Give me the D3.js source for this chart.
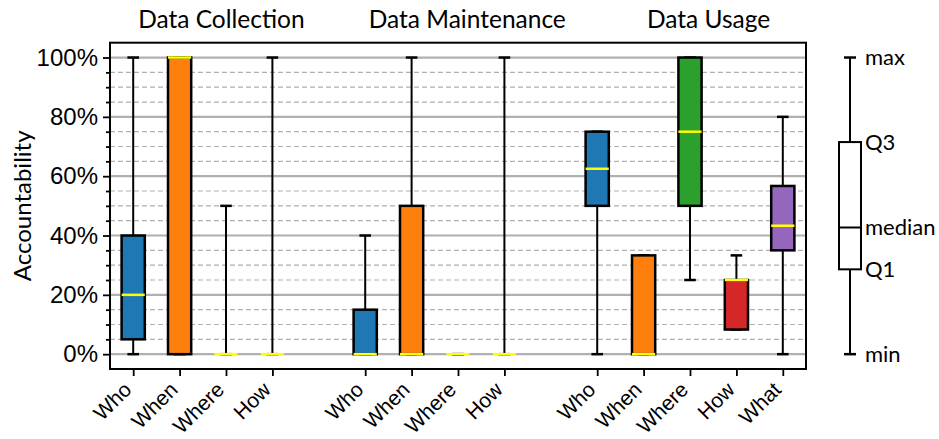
<!DOCTYPE html>
<html>
<head>
<meta charset="utf-8">
<script src="https://cdn.jsdelivr.net/npm/d3@7"></script>
<style>
  body { margin: 0; background: #fff; }
  svg { display: block; font-family: "Lato", "DejaVu Sans", sans-serif; }
</style>
</head>
<body>
<div id="chart"></div>
<script>
// --- Datos ---
const groupTitles = ["Data Collection", "Data Maintenance", "Data Usage"];
const groupTitlePos = [1.9, 7.2, 12.4];
const labels = ["Who", "When", "Where", "How", "Who", "When", "Where", "How", "Who", "When", "Where", "How", "What"];
const positions = [0, 1, 2, 3, 5, 6, 7, 8, 10, 11, 12, 13, 14];
const mins    = [0, 0, 0, 0,   0, 0, 0, 0,    0,    0,    25,  8.3,  0];
const q1s     = [5, 0, 0, 0,   0, 0, 0, 0,    50,   0,    50,  8.3,  35];
const medians = [20, 100, 0, 0, 0, 0, 0, 0,   62.5, 0,    75,  25,   43.3];
const q3s     = [40, 100, 0, 0, 15, 50, 0, 0, 75,   33.3, 100, 25,   56.7];
const maxs    = [100, 100, 50, 100, 40, 100, 0, 100, 75, 33.3, 100, 33.3, 80];
const boxColors = ["#1f77b4", "#ff7f0e", "#2ca02c", "#d62728",
                   "#1f77b4", "#ff7f0e", "#2ca02c", "#d62728",
                   "#1f77b4", "#ff7f0e", "#2ca02c", "#d62728", "#9467bd"];
const yTicks = [0, 20, 40, 60, 80, 100];
const legendLabels = ["min", "Q1", "median", "Q3", "max"];
const legendValues = [0, 28.6, 42.7, 71.5, 100];

const width = 939, height = 439;
const plot = { left: 110, right: 806, top: 42.7, bottom: 369 };

const svg = d3.select("#chart").append("svg")
    .attr("width", width)
    .attr("height", height);

const x = d3.scaleLinear().domain([-0.5, 14.5]).range([plot.left, plot.right]);
const y = d3.scaleLinear().domain([-5, 105]).range([plot.bottom, plot.top]);
const boxW = x(0.5) - x(0);
const capW = boxW / 2;

// --- Rejilla ---
const minorTicks = d3.range(0, 101, 5).filter(v => v % 20 !== 0);
svg.append("g").selectAll("line")
    .data(minorTicks).enter().append("line")
    .attr("x1", plot.left).attr("x2", plot.right)
    .attr("y1", d => y(d)).attr("y2", d => y(d))
    .style("stroke", "#b0b0b0")
    .style("stroke-width", 1.2)
    .style("stroke-dasharray", "5,3");

svg.append("g").selectAll("line")
    .data(yTicks).enter().append("line")
    .attr("x1", plot.left).attr("x2", plot.right)
    .attr("y1", d => y(d)).attr("y2", d => y(d))
    .style("stroke", "#b0b0b0")
    .style("stroke-width", 2.2);

// --- Cajas ---
const boxes = svg.append("g").selectAll("g")
    .data(positions.map((p, i) => ({
        p, min: mins[i], q1: q1s[i], med: medians[i], q3: q3s[i], max: maxs[i], color: boxColors[i]
    })))
    .enter().append("g");

// bigotes
boxes.append("line")
    .attr("x1", d => x(d.p)).attr("x2", d => x(d.p))
    .attr("y1", d => y(d.q3)).attr("y2", d => y(d.max))
    .style("stroke", "#000").style("stroke-width", 2);
boxes.append("line")
    .attr("x1", d => x(d.p)).attr("x2", d => x(d.p))
    .attr("y1", d => y(d.q1)).attr("y2", d => y(d.min))
    .style("stroke", "#000").style("stroke-width", 2);
boxes.append("line")
    .attr("x1", d => x(d.p) - capW / 2).attr("x2", d => x(d.p) + capW / 2)
    .attr("y1", d => y(d.max)).attr("y2", d => y(d.max))
    .style("stroke", "#000").style("stroke-width", 2.5);
boxes.append("line")
    .attr("x1", d => x(d.p) - capW / 2).attr("x2", d => x(d.p) + capW / 2)
    .attr("y1", d => y(d.min)).attr("y2", d => y(d.min))
    .style("stroke", "#000").style("stroke-width", 2.5);

boxes.append("rect")
    .attr("x", d => x(d.p) - boxW / 2)
    .attr("width", boxW)
    .attr("y", d => y(d.q3))
    .attr("height", d => y(d.q1) - y(d.q3))
    .style("fill", d => d.color)
    .style("stroke", "#000")
    .style("stroke-width", 2.5);

boxes.append("line")
    .attr("x1", d => x(d.p) - boxW / 2).attr("x2", d => x(d.p) + boxW / 2)
    .attr("y1", d => y(d.med)).attr("y2", d => y(d.med))
    .style("stroke", "#ffff00").style("stroke-width", 2.5);

// --- Marco ---
svg.append("rect")
    .attr("x", plot.left).attr("y", plot.top)
    .attr("width", plot.right - plot.left).attr("height", plot.bottom - plot.top)
    .style("fill", "none").style("stroke", "#000").style("stroke-width", 2);

// --- Ejes ---
const yAxis = svg.append("g")
    .attr("transform", `translate(${plot.left},0)`)
    .call(d3.axisLeft(y).tickValues(yTicks).tickFormat(d => d + "%").tickSize(7).tickPadding(5));
svg.append("g")
    .attr("transform", `translate(${plot.left},0)`)
    .call(d3.axisLeft(y).tickValues(minorTicks).tickFormat("").tickSize(4))
    .select(".domain").remove();
yAxis.select(".domain").remove();
svg.selectAll(".tick line").style("stroke", "#000").style("stroke-width", 1.8);
yAxis.selectAll("text").style("font-size", "24px").attr("fill", "#000");

const xAxis = svg.append("g")
    .attr("transform", `translate(0,${plot.bottom})`)
    .call(d3.axisBottom(x).tickValues(positions).tickFormat((d, i) => labels[i]).tickSize(7));
xAxis.select(".domain").remove();
xAxis.selectAll(".tick line").style("stroke", "#000").style("stroke-width", 1.8);
xAxis.selectAll("text")
    .style("font-size", "21px")
    .attr("fill", "#000")
    .attr("text-anchor", "end")
    .attr("dy", null)
    .attr("y", 0)
    .attr("transform", "translate(-1,22) rotate(-45)");

svg.append("text")
    .attr("transform", `translate(31,${(plot.top + plot.bottom) / 2}) rotate(-90)`)
    .attr("text-anchor", "middle")
    .style("font-size", "24px")
    .text("Accountability");

// Títulos de grupos
svg.append("g").selectAll("text")
    .data(groupTitles).enter().append("text")
    .attr("x", (d, i) => x(groupTitlePos[i]))
    .attr("y", 28)
    .attr("text-anchor", "middle")
    .style("font-size", "24.5px")
    .text(d => d);

// --- Leyenda (caja esquemática) ---
const lx = 850, lw = 22;
const leg = svg.append("g");
leg.append("line")
    .attr("x1", lx).attr("x2", lx)
    .attr("y1", y(legendValues[0])).attr("y2", y(legendValues[4]))
    .style("stroke", "#000").style("stroke-width", 2);
[legendValues[0], legendValues[4]].forEach(v => {
    leg.append("line")
        .attr("x1", lx - 6).attr("x2", lx + 6)
        .attr("y1", y(v)).attr("y2", y(v))
        .style("stroke", "#000").style("stroke-width", 2.5);
});
leg.append("rect")
    .attr("x", lx - lw / 2).attr("width", lw)
    .attr("y", y(legendValues[3]))
    .attr("height", y(legendValues[1]) - y(legendValues[3]))
    .style("fill", "#fff").style("stroke", "#000").style("stroke-width", 2);
leg.append("line")
    .attr("x1", lx - lw / 2).attr("x2", lx + lw / 2)
    .attr("y1", y(legendValues[2])).attr("y2", y(legendValues[2]))
    .style("stroke", "#000").style("stroke-width", 2);
leg.selectAll("text.lbl")
    .data(legendLabels).enter().append("text")
    .attr("class", "lbl")
    .attr("x", 865)
    .attr("y", (d, i) => y(legendValues[i]))
    .attr("dy", "0.35em")
    .style("font-size", "22px")
    .text(d => d);
</script>
</body>
</html>
